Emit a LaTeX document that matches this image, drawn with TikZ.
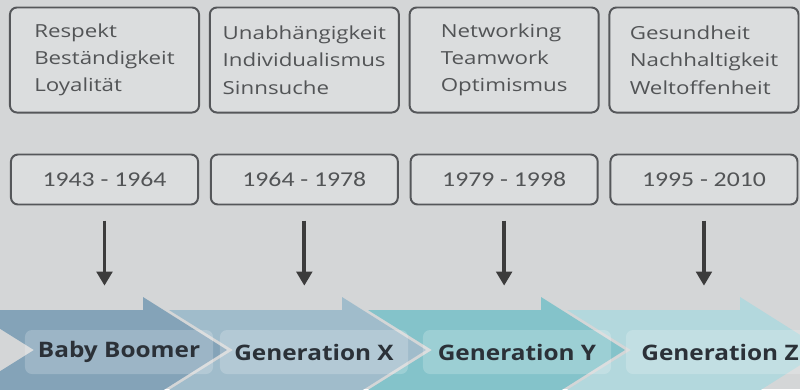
\documentclass[tikz,border=0pt]{standalone}
\usepackage{fontspec}
\setmainfont{Open Sans}
\newfontfamily\valuefont[FakeStretch=1.24]{Open Sans}
\newfontfamily\yearfont[FakeStretch=1.22]{Carlito}
\newfontfamily\genfont[FakeStretch=1.14]{Open Sans}
\usetikzlibrary{positioning,arrows.meta}

\definecolor{bgGray}{HTML}{D4D6D7}
\definecolor{boxFill}{HTML}{DBDDDE}
\definecolor{boxLine}{HTML}{55575A}
\definecolor{valueText}{HTML}{525456}
\definecolor{genText}{HTML}{2B3138}
\definecolor{arrowGray}{HTML}{3C3C3C}
\definecolor{boomerBlue}{HTML}{84A3B8}
\definecolor{genxBlue}{HTML}{A0BCCB}
\definecolor{genyTeal}{HTML}{84C3CA}
\definecolor{genzTeal}{HTML}{B3D8DD}

\begin{document}
\begin{tikzpicture}[
		x=0.025cm, y=-0.025cm,
		valuebox/.style={draw=boxLine, line width=1.4pt, rounded corners=5pt, fill=boxFill, minimum width=4.725cm, minimum height=2.625cm, align=left, text=valueText, font=\valuefont\fontsize{12.8}{19.4}\selectfont},
		yearbox/.style={draw=boxLine, line width=1.4pt, rounded corners=5pt, fill=boxFill, minimum width=4.675cm, minimum height=1.25cm, text=valueText, font=\yearfont\fontsize{15}{17}\selectfont},
		genlabel/.style={fill=white, fill opacity=0.2, text opacity=1, rounded corners=5pt, minimum width=4.7cm, minimum height=1.1cm, text=genText, font=\genfont\bfseries\fontsize{15.2}{18}\selectfont},
		downarrow/.style={draw=arrowGray, line width=2.8pt, -{Triangle[width=11pt,length=10pt]}, shorten <=0.375cm, shorten >=1.1cm}
		]
		\useasboundingbox (0,0) rectangle (800,389);
		\clip (0,0) rectangle (800,389);
		\fill[bgGray] (0,0) rectangle (800,389);
		
		% Timeline chevrons
		\fill[boomerBlue] (-30,310) -- (143,310) -- (143,297) -- (227,350) -- (143,403) -- (143,390) -- (-30,390) -- (34,350) -- cycle;
		\fill[genxBlue] (169,310) -- (342,310) -- (342,297) -- (426,350) -- (342,403) -- (342,390) -- (169,390) -- (233,350) -- cycle;
		\fill[genyTeal] (368,310) -- (541,310) -- (541,297) -- (625,350) -- (541,403) -- (541,390) -- (368,390) -- (432,350) -- cycle;
		\fill[genzTeal] (567,310) -- (740,310) -- (740,297) -- (824,350) -- (740,403) -- (740,390) -- (567,390) -- (631,350) -- cycle;
		
		% Values
		\node[valuebox] (values1) at (104.5,60) {Respekt\\Beständigkeit\\Loyalität};
		\node[valuebox, right=0.22cm of values1] (values2) {Unabhängigkeit\\Individualismus\\Sinnsuche};
		\node[valuebox, right=0.22cm of values2] (values3) {Networking\\Teamwork\\Optimismus};
		\node[valuebox, right=0.22cm of values3] (values4) {Gesundheit\\Nachhaltigkeit\\Weltoffenheit};
		
		% Years
		\node[yearbox, below=1.0cm of values1] (years1) {1943 - 1964};
		\node[yearbox, below=1.0cm of values2] (years2) {1964 - 1978};
		\node[yearbox, below=1.0cm of values3] (years3) {1979 - 1998};
		\node[yearbox, below=1.0cm of values4] (years4) {1995 - 2010};
		
		% Generations
		\node[genlabel] (gen1) at (119,352) {Baby Boomer};
		\node[genlabel] (gen2) at (314,352) {Generation X};
		\node[genlabel] (gen3) at (517,352) {Generation Y};
		\node[genlabel] (gen4) at (720,352) {Generation Z};
		
		% Arrows
		\draw[downarrow] (years1.south) -- (years1.south |- gen1.north);
		\draw[downarrow] (years2.south) -- (years2.south |- gen2.north);
		\draw[downarrow] (years3.south) -- (years3.south |- gen3.north);
		\draw[downarrow] (years4.south) -- (years4.south |- gen4.north);
	\end{tikzpicture}
\end{document}
